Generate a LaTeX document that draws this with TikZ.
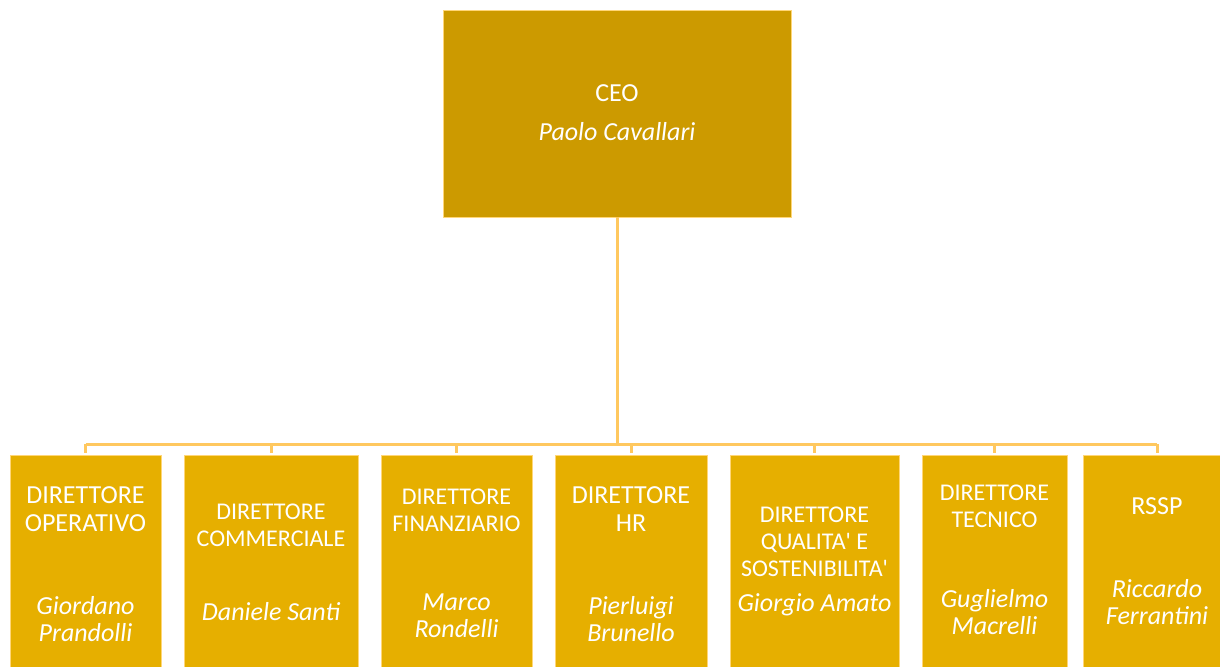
\documentclass[tikz,border=0pt]{standalone}
\usepackage{fontspec}
\setmainfont{Carlito}[Ligatures=TeXOff]
\usepackage{tikz}

\definecolor{ceogold}{RGB}{204,154,0}
\definecolor{dirgold}{RGB}{230,175,0}
\definecolor{linkgold}{RGB}{255,200,95}
\definecolor{edgegold}{RGB}{255,214,120}

\begin{document}
\begin{tikzpicture}[x=0.5pt,y=-0.5pt,
    ceobox/.style={fill=ceogold, draw=edgegold, line width=0.4pt, inner sep=0pt,
        minimum width=174pt, minimum height=103.5pt},
    dirbox/.style={fill=dirgold, draw=edgegold, line width=0.4pt, inner sep=0pt,
        minimum height=107pt},
    link/.style={draw=linkgold, line width=1.5pt},
    role/.style={text=white, align=center, inner sep=0pt, font=\fontsize{12}{13.5}\selectfont},
    bigrole/.style={role, font=\fontsize{13}{14}\selectfont},
    who/.style={text=white, align=center, inner sep=0pt, font=\fontsize{13}{13.7}\selectfont\itshape}]
    \useasboundingbox (0,0) rectangle (1220,666);

    % vertice
    \node[ceobox] (ceo) at (617,113.5) {};
    \node[bigrole] (ceo-t) at (617,93) {CEO};
    \node[who] (ceo-n) at (617,132) {Paolo Cavallari};

    % direttori
    \node[dirbox, minimum width=75.5pt] (op) at (85.5,562) {};
    \node[dirbox, minimum width=87pt] (com) at (271,562) {};
    \node[dirbox, minimum width=75.5pt] (fin) at (456.5,562) {};
    \node[dirbox, minimum width=76pt] (hr) at (631,562) {};
    \node[dirbox, minimum width=84.5pt] (qual) at (814.5,562) {};
    \node[dirbox, minimum width=72.5pt] (tec) at (994.5,562) {};
    \node[dirbox, minimum width=74pt] (rssp) at (1157,562) {};

    \node[bigrole] (op-t) at (85.5,509) {DIRETTORE\\OPERATIVO};
    \node[who] (op-n) at (85.5,619) {Giordano\\Prandolli};
    \node[role] (com-t) at (271,525) {DIRETTORE\\COMMERCIALE};
    \node[who] (com-n) at (271,612) {Daniele Santi};
    \node[role] (fin-t) at (456.5,510) {DIRETTORE\\FINANZIARIO};
    \node[who] (fin-n) at (456.5,616) {Marco\\Rondelli};
    \node[bigrole] (hr-t) at (631,509.5) {DIRETTORE\\HR};
    \node[who] (hr-n) at (631,619) {Pierluigi\\Brunello};
    \node[role] (qual-t) at (814.5,542) {DIRETTORE\\QUALITA' E\\SOSTENIBILITA'};
    \node[who] (qual-n) at (814.5,605) {Giorgio Amato};
    \node[role] (tec-t) at (994.5,506.5) {DIRETTORE\\TECNICO};
    \node[who] (tec-n) at (994.5,612) {Guglielmo\\Macrelli};
    \node[bigrole] (rssp-t) at (1157,506) {RSSP};
    \node[who] (rssp-n) at (1157,602) {Riccardo\\Ferrantini};

    % collegamenti
    \coordinate (bus) at (617,444);
    \draw[link] (ceo.south) -- (bus);
    \draw[link] (op.north |- bus) -- (rssp.north |- bus);
    \foreach \d in {op,com,fin,hr,qual,tec,rssp}
        \draw[link] (\d.north |- bus) -- ([yshift=1pt]\d.north);
\end{tikzpicture}
\end{document}
